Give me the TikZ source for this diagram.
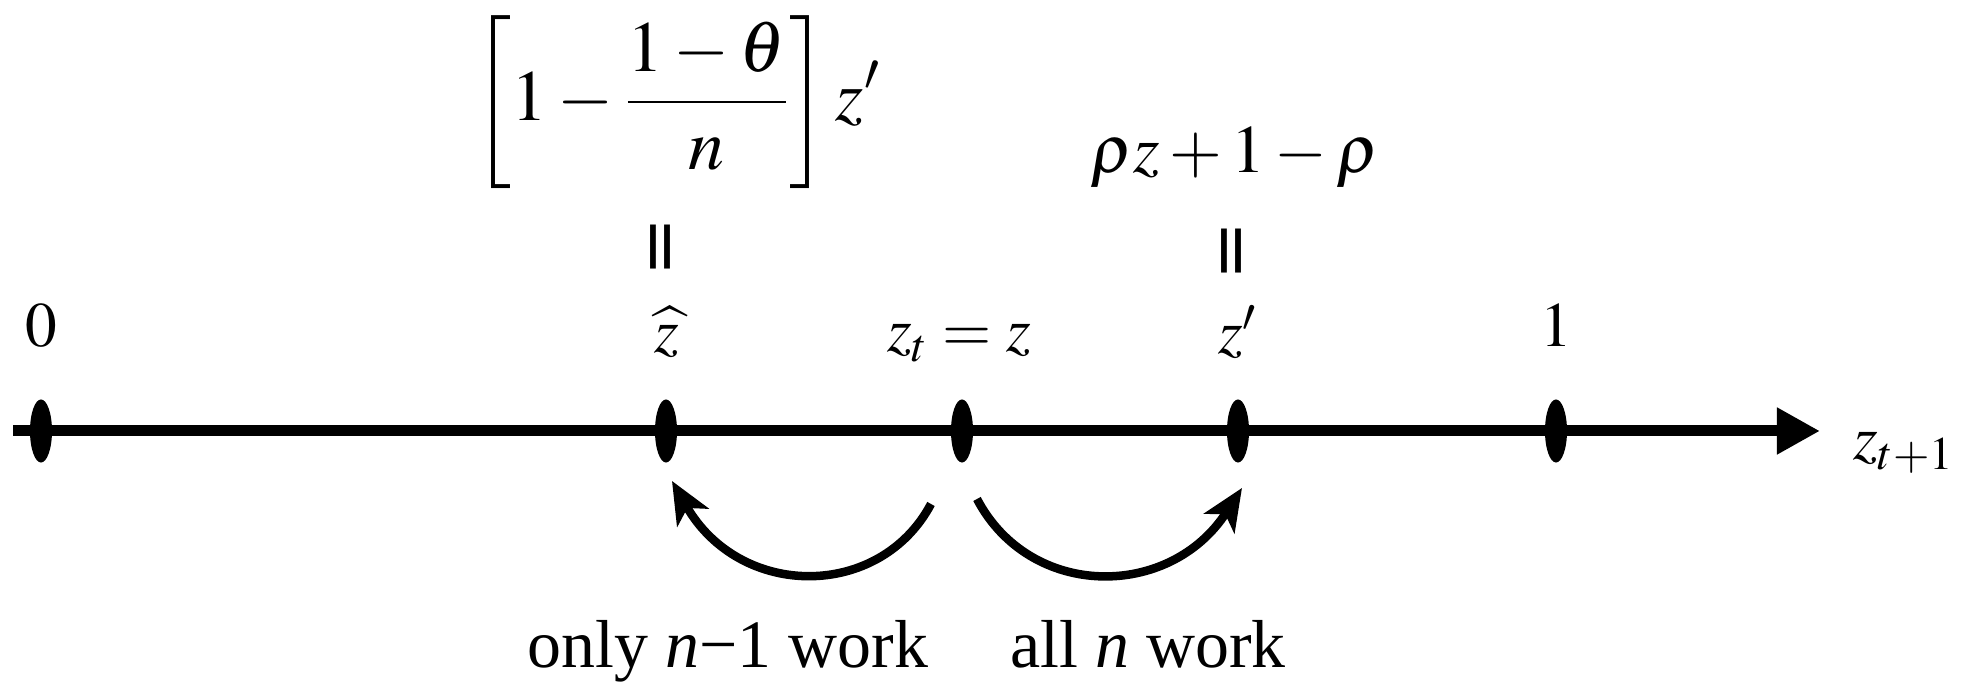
\documentclass[tikz,border=0pt]{standalone}
\usepackage{mathptmx}
\usepackage{fontspec}
\setmainfont{Liberation Serif}
\newfontfamily\eqfont{DejaVu Sans}
\usepackage{graphicx}
\usetikzlibrary{arrows.meta,shapes.geometric}
\begin{document}
\begin{tikzpicture}[x=0.01cm,y=-0.01cm,
  tick/.style={ellipse,fill=black,minimum width=0.22cm,minimum height=0.63cm,inner sep=0pt},
  lab/.style={font=\fontsize{18}{21}\selectfont,inner sep=0pt},
  biglab/.style={font=\fontsize{19.3}{23}\selectfont,inner sep=0pt},
  axisline/.style={line width=0.11cm,-{Triangle[length=0.43cm,width=0.44cm]}},
  jump/.style={line width=0.085cm,-{Stealth[length=0.42cm,width=0.36cm,inset=0.11cm]}},
  vequal/.style={font=\eqfont\fontsize{20}{22}\selectfont,inner sep=0pt,rotate=90}
]
\useasboundingbox (0,0) rectangle (1971,683);
% axis
\coordinate (axL) at (13,431);
\coordinate (axR) at (1820,431);
\draw[axisline] (axL) -- (axR);
% ticks
\node[tick] (t0) at (41,431) {};
\node[tick] (tzh) at (666,431) {};
\node[tick] (tz) at (962,431) {};
\node[tick] (tzp) at (1238,431) {};
\node[tick] (t1) at (1556,431) {};
% labels above
\node[lab,anchor=base] (l0) at (41,347) {$0$};
\node[lab,anchor=base] (lzh) at (667,353) {$\widehat{z}$};
\node[lab,anchor=base] (lz) at (959,352) {$z_t = z$};
\node[lab,anchor=base] (lzp) at (1238,354) {$z'$};
\node[lab,anchor=base] (l1) at (1556,347) {$1$};
\node[lab,anchor=base] (lzt) at (1904,460) {$z_{t+1}$};
% equalities
\node[vequal] (e1) at (667,247) {=};
\node[vequal] (e2) at (1238,251) {=};
\node[font=\fontsize{20.5}{24}\selectfont,inner sep=0pt] (ex1) at (677,102) {$\displaystyle\left[1-\frac{1-\theta}{n}\right]z'$};
\node[biglab,anchor=base] (ex2) at (1235,173) {$\rho z+1-\rho$};
% jumps
\coordinate (ls) at (931,504);
\coordinate (le) at (672,481);
\coordinate (rs) at (977,499);
\coordinate (re) at (1242,488);
\draw[jump] (ls) .. controls (880,600) and (740,600) .. (le);
\draw[jump] (rs) .. controls (1030,600) and (1170,600) .. (re);
% bottom labels
\node[biglab,anchor=base] (b1) at (728,668) {only \textit{n}−1 work};
\node[biglab,anchor=base] (b2) at (1148,668) {all \textit{n} work};
\end{tikzpicture}
\end{document}
